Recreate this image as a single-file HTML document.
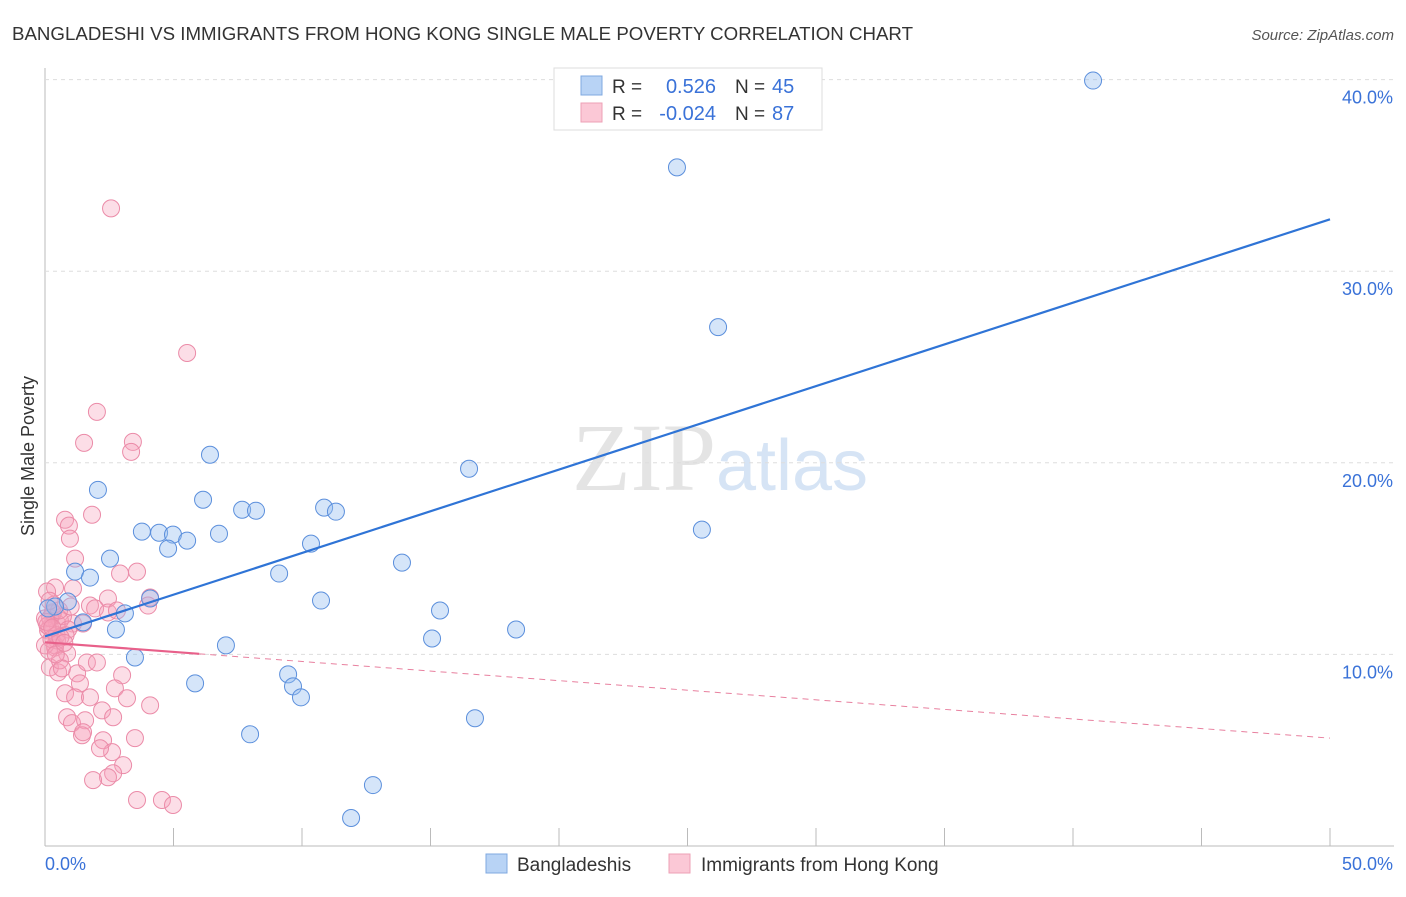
<!DOCTYPE html>
<html><head><meta charset="utf-8"><style>
body{margin:0;background:#fff;font-family:"Liberation Sans",sans-serif}
</style></head><body>
<svg id="chart" width="1406" height="892" xmlns="http://www.w3.org/2000/svg" font-family="Liberation Sans, sans-serif">
<text x="12" y="40" font-size="18" fill="#333" textLength="901" lengthAdjust="spacingAndGlyphs">BANGLADESHI VS IMMIGRANTS FROM HONG KONG SINGLE MALE POVERTY CORRELATION CHART</text>
<text x="1394" y="40" font-size="15" fill="#555" font-style="italic" text-anchor="end">Source: ZipAtlas.com</text>
<text x="720" y="490" font-size="96" text-anchor="middle" fill="#e4e4e4" font-family="Liberation Serif, serif">ZIP<tspan fill="#d6e4f5" font-family="Liberation Sans, sans-serif" font-size="72">atlas</tspan></text>
<text transform="translate(34,456) rotate(-90)" font-size="18" fill="#333" text-anchor="middle">Single Male Poverty</text>
<g id="grid"></g><g id="pts"></g><g id="lines"></g>
<g>
<rect x="554" y="68" width="268" height="62" fill="#fff" stroke="#ddd"/>
<rect x="581" y="76" width="21" height="19" fill="#b8d3f5" stroke="#7fa8e0"/>
<rect x="581" y="103" width="21" height="19" fill="#fbc8d6" stroke="#eea0b6"/>
<text x="612" y="93" font-size="19" fill="#333">R =</text>
<text x="716" y="93" font-size="20" fill="#3a72d8" text-anchor="end">0.526</text>
<text x="735" y="93" font-size="19" fill="#333">N =</text>
<text x="772" y="93" font-size="20" fill="#3a72d8">45</text>
<text x="612" y="120" font-size="19" fill="#333">R =</text>
<text x="716" y="120" font-size="20" fill="#3a72d8" text-anchor="end">-0.024</text>
<text x="735" y="120" font-size="19" fill="#333">N =</text>
<text x="772" y="120" font-size="20" fill="#3a72d8">87</text>
</g>
<g>
<rect x="486" y="854" width="21" height="19" fill="#b8d3f5" stroke="#7fa8e0"/>
<text x="517" y="871" font-size="19" fill="#333">Bangladeshis</text>
<rect x="669" y="854" width="21" height="19" fill="#fbc8d6" stroke="#eea0b6"/>
<text x="701" y="871" font-size="19" fill="#333">Immigrants from Hong Kong</text>
</g>
</svg>
<script>
const blueX=[40.78,24.59,26.19,6.42,2.06,16.50,6.15,7.67,8.21,10.86,11.32,3.77,4.44,4.98,5.53,6.77,4.79,10.35,25.56,2.53,13.89,1.17,1.75,9.11,4.09,10.74,0.89,0.39,0.12,3.11,1.48,15.37,2.76,18.33,15.06,7.04,3.50,9.46,9.65,5.84,9.96,16.73,7.98,12.76,11.91];
const blueY=[39.95,35.42,27.08,20.42,18.59,19.69,18.07,17.55,17.5,17.66,17.45,16.41,16.35,16.25,15.94,16.30,15.52,15.78,16.51,15.0,14.79,14.32,14.01,14.22,12.92,12.81,12.76,12.5,12.4,12.14,11.67,12.29,11.30,11.30,10.83,10.47,9.84,8.96,8.33,8.49,7.76,6.67,5.83,3.18,1.46];
const pinkX=[0.78,0.93,0.97,1.83,1.17,2.92,3.58,0.39,1.09,2.45,1.75,1.95,2.45,2.80,4.09,4.01,0.31,0.47,0.19,1.09,1.48,0.39,0.86,0.19,0.51,1.25,1.63,2.02,3.00,2.72,1.36,0.78,1.17,1.75,3.19,4.09,2.22,2.65,0.86,1.05,1.56,1.44,1.48,2.26,2.61,2.14,3.50,3.04,2.65,2.45,1.87,3.58,4.55,4.98,2.57,5.53,2.02,1.52,3.42,3.35,0.08,0.47,0.0,0.58,0.12,0.39,0.0,0.58,0.66,0.3,0.2,0.7,0.1,0.45,0.25,0.9,0.35,0.15,0.55,0.05,0.8,0.6,1.0,0.28,0.42,0.18,0.75];
const pinkY=[17.03,16.72,16.04,17.29,15.0,14.22,14.32,13.49,13.44,12.92,12.55,12.40,12.19,12.29,12.97,12.55,12.14,11.61,11.41,11.61,11.61,10.36,10.05,9.32,9.06,9.01,9.58,9.58,8.91,8.23,8.49,7.97,7.76,7.76,7.71,7.34,7.08,6.72,6.72,6.41,6.56,5.78,5.94,5.52,4.90,5.10,5.63,4.22,3.80,3.59,3.44,2.40,2.40,2.14,33.28,25.73,22.66,21.04,21.09,20.57,13.28,10.73,11.88,11.77,11.25,10.47,10.47,9.69,9.27,12.2,11.9,12.0,11.5,11.0,10.8,11.3,12.6,10.2,12.3,11.7,11.0,10.9,12.5,11.4,10.0,12.8,10.6];
const trendIntercept=[10.94,10.63];
const trendSlope=[0.4354,-0.1];
const yTicks=[10,20,30,40];
const xTickLabels=["0.0%","50.0%"];
const X=v=>45+v*25.7, Y=v=>846-v*19.16;
const NS="http://www.w3.org/2000/svg";
function mk(t,a,p){const e=document.createElementNS(NS,t);for(const k in a)e.setAttribute(k,a[k]);p.appendChild(e);return e;}
const grid=document.getElementById('grid');
const ax=mk('line',{x1:45,y1:68,x2:45,y2:846,stroke:'#bbb'},grid);


const bx=mk('line',{x1:45,y1:846,x2:1394,y2:846,stroke:'#bbb'},grid);


yTicks.forEach(t=>{
 const g=mk('line',{x1:45,x2:1394,y1:Y(t),y2:Y(t),stroke:'#ddd','stroke-dasharray':'4,4'},grid);
 
 
 const l=mk('text',{x:1393,y:Y(t)+24,'font-size':18,fill:'#3a72d8','text-anchor':'end'},grid);
 l.textContent=t.toFixed(1)+'%';
 
 
});
for(let i=0;i<=10;i++){
 const tk=mk('line',{x1:X(i*5),x2:X(i*5),y1:828,y2:846,stroke:'#bbb'},grid);
 
 
}
const xl0=mk('text',{x:45,y:870,'font-size':18,fill:'#3a72d8'},grid);xl0.textContent=xTickLabels[0];


const xl1=mk('text',{x:1393,y:870,'font-size':18,fill:'#3a72d8','text-anchor':'end'},grid);xl1.textContent=xTickLabels[1];


const pts=document.getElementById('pts');
pinkX.forEach((x,i)=>{const c=mk('circle',{cx:X(x),cy:Y(pinkY[i]),r:8.5,fill:'rgba(246,160,186,0.35)',stroke:'#eb8ba8','stroke-width':1},pts);
 
 });
blueX.forEach((x,i)=>{const c=mk('circle',{cx:X(x),cy:Y(blueY[i]),r:8.5,fill:'rgba(150,190,240,0.4)',stroke:'#5b8fdc','stroke-width':1},pts);
 
 });
const lines=document.getElementById('lines');
const bl=mk('line',{x1:X(0),y1:Y(trendIntercept[0]),x2:X(50),y2:Y(trendIntercept[0]+50*trendSlope[0]),stroke:'#2f74d6','stroke-width':2.2},lines);


const ps=mk('line',{x1:X(0),y1:Y(trendIntercept[1]),x2:X(6),y2:Y(trendIntercept[1]+6*trendSlope[1]),stroke:'#e8608a','stroke-width':2.2},lines);


const pd=mk('line',{x1:X(6),y1:Y(trendIntercept[1]+6*trendSlope[1]),x2:X(50),y2:Y(trendIntercept[1]+50*trendSlope[1]),stroke:'#e8809f','stroke-width':1,'stroke-dasharray':'6,5'},lines);


</script>
</body></html>
